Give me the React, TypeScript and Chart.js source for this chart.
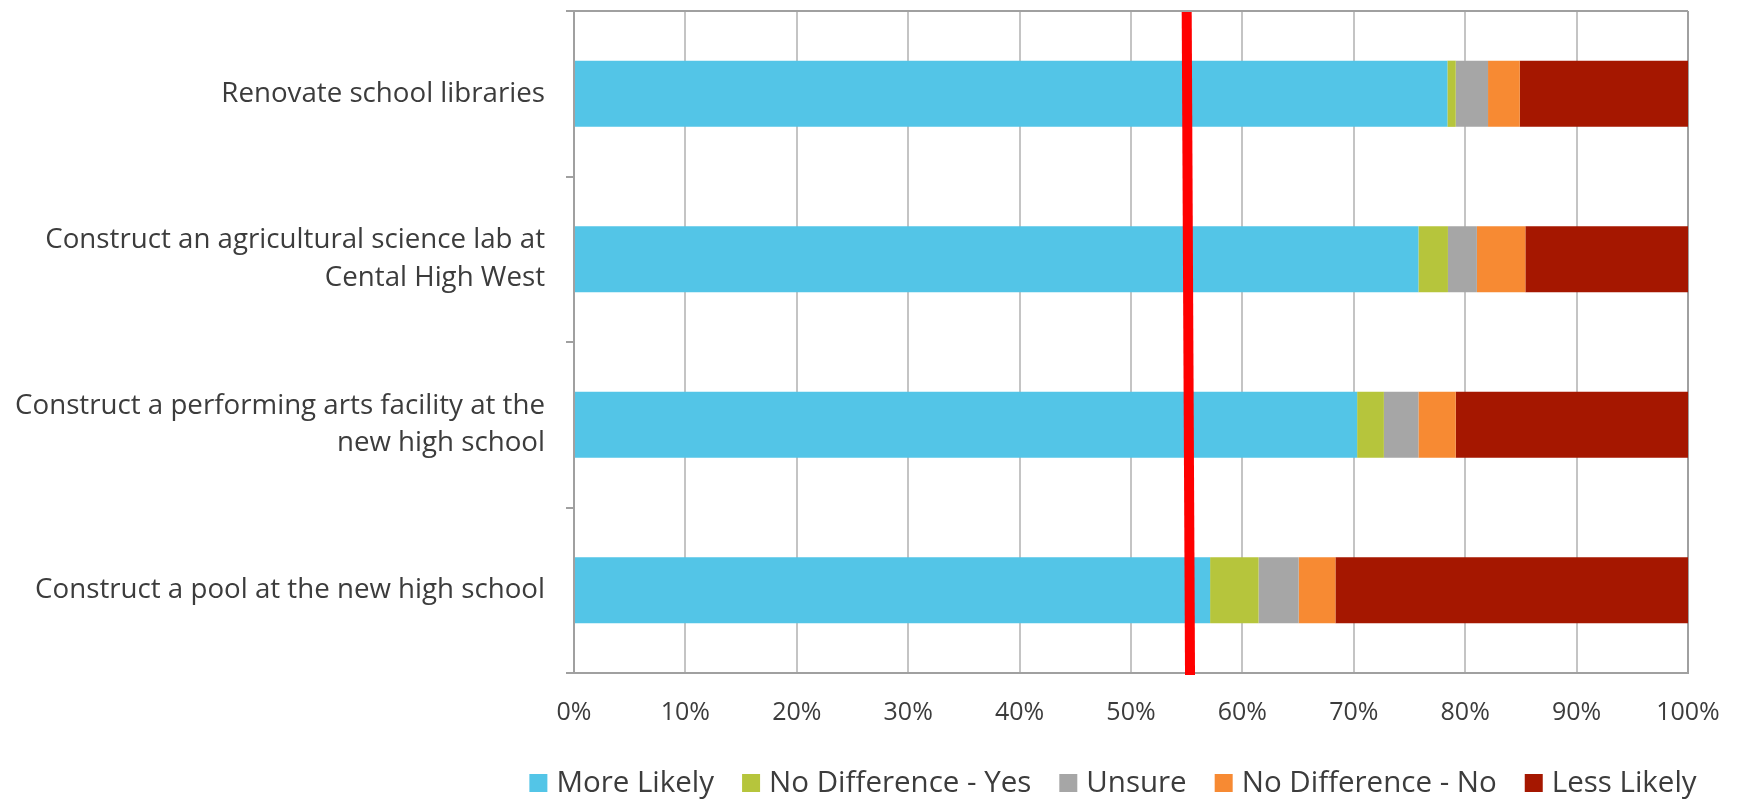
import React, { useEffect, useRef } from "react";
import { Chart, registerables } from "chart.js";

Chart.register(...registerables);

const categories: (string | string[])[] = [
  "Renovate school libraries",
  ["Construct an agricultural science lab at", "Cental High West"],
  ["Construct a performing arts facility at the", "new high school"],
  "Construct a pool at the new high school",
];

const moreLikely = [78.4, 75.8, 70.3, 57.1];
const noDiffYes = [0.75, 2.65, 2.4, 4.35];
const unsure = [2.9, 2.6, 3.1, 3.6];
const noDiffNo = [2.85, 4.35, 3.35, 3.3];
const lessLikely = [15.1, 14.6, 20.85, 31.65];

const seriesNames = ["More Likely", "No Difference - Yes", "Unsure", "No Difference - No", "Less Likely"];
const seriesColors = ["#53c5e7", "#b6c53c", "#a6a6a6", "#f78a33", "#a51700"];

const xTicks = [0, 10, 20, 30, 40, 50, 60, 70, 80, 90, 100];

// threshold line (percent at top and bottom of plot)
const thresholdTop = 55.0;
const thresholdBottom = 55.3;

const FONT = "'Open Sans', Lato, sans-serif";
const TEXT_COLOR = "#3c3c3c";
const AXIS_COLOR = "#a0a0a0";
const GRID_COLOR = "#c4c4c4";

const W = 1737;
const H = 802;

const framePlugin = {
  id: "frame",
  beforeDatasetsDraw(chart: any) {
    const { ctx, chartArea } = chart;
    ctx.save();
    ctx.strokeStyle = AXIS_COLOR;
    ctx.lineWidth = 2;
    ctx.beginPath();
    ctx.moveTo(chartArea.left, chartArea.top);
    ctx.lineTo(chartArea.right, chartArea.top);
    ctx.moveTo(chartArea.right, chartArea.top);
    ctx.lineTo(chartArea.right, chartArea.bottom);
    ctx.stroke();
    ctx.restore();
  },
};

const thresholdPlugin = {
  id: "threshold",
  afterDatasetsDraw(chart: any) {
    const { ctx, chartArea, scales } = chart;
    const x1 = scales.x.getPixelForValue(thresholdTop);
    const x2 = scales.x.getPixelForValue(thresholdBottom);
    ctx.save();
    ctx.strokeStyle = "#ff0000";
    ctx.lineWidth = 10;
    ctx.beginPath();
    ctx.moveTo(x1, chartArea.top + 1);
    ctx.lineTo(x2, chartArea.bottom + 2);
    ctx.stroke();
    ctx.restore();
  },
};

const legendPlugin = {
  id: "customLegend",
  afterDraw(chart: any) {
    const { ctx } = chart;
    const fs = 29.5;
    const box = 18;
    const gapBT = 9;
    const gapItem = 28;
    const centerX = 1113;
    const y = 783;
    ctx.save();
    ctx.font = `${fs}px ${FONT}`;
    ctx.textBaseline = "middle";
    ctx.textAlign = "left";
    const items = chart.data.datasets.map((d: any) => ({
      label: d.label,
      color: d.backgroundColor,
      w: ctx.measureText(d.label).width,
    }));
    const total =
      items.reduce((s: number, it: any) => s + box + gapBT + it.w, 0) + gapItem * (items.length - 1);
    let x = centerX - total / 2;
    for (const it of items) {
      ctx.fillStyle = it.color;
      ctx.fillRect(x, y - box / 2, box, box);
      ctx.fillStyle = TEXT_COLOR;
      ctx.fillText(it.label, x + box + gapBT, y + 1);
      x += box + gapBT + it.w + gapItem;
    }
    ctx.restore();
  },
};

export default function App() {
  const ref = useRef<HTMLCanvasElement | null>(null);

  useEffect(() => {
    if (!ref.current) return;
    const seriesData = [moreLikely, noDiffYes, unsure, noDiffNo, lessLikely];
    const chart = new Chart(ref.current, {
      type: "bar",
      data: {
        labels: categories as any,
        datasets: seriesNames.map((name, i) => ({
          label: name,
          data: seriesData[i],
          backgroundColor: seriesColors[i],
          borderWidth: 0,
          barPercentage: 0.4,
          categoryPercentage: 1,
        })),
      },
      options: {
        indexAxis: "y",
        animation: false,
        responsive: false,
        devicePixelRatio: 1,
        layout: { padding: { left: 0, right: 49, top: 11, bottom: 0 } },
        plugins: {
          legend: { display: false },
          tooltip: { enabled: false },
          title: { display: false },
        },
        scales: {
          x: {
            type: "linear",
            stacked: true,
            min: 0,
            max: 100,
            afterBuildTicks: (scale: any) => {
              scale.ticks = xTicks.map((v) => ({ value: v }));
            },
            afterFit: (scale: any) => {
              scale.height = 129;
              scale.paddingLeft = 0;
              scale.paddingRight = 0;
            },
            ticks: {
              callback: (v: any) => `${v}%`,
              font: { family: FONT, size: 25 },
              color: TEXT_COLOR,
              padding: 25,
              maxRotation: 0,
            },
            grid: {
              color: GRID_COLOR,
              lineWidth: 2,
              drawTicks: false,
            },
            border: { display: true, color: AXIS_COLOR, width: 2 },
          },
          y: {
            stacked: true,
            afterFit: (scale: any) => {
              scale.width = 574;
              scale.paddingTop = 0;
              scale.paddingBottom = 0;
            },
            ticks: {
              font: { family: FONT, size: 27.7, lineHeight: 1.35 },
              color: TEXT_COLOR,
              padding: 21,
            },
            grid: {
              offset: true,
              drawOnChartArea: false,
              drawTicks: true,
              tickLength: 8,
              color: AXIS_COLOR,
              lineWidth: 2,
            },
            border: { display: true, color: AXIS_COLOR, width: 2 },
          },
        },
      },
      plugins: [framePlugin, thresholdPlugin, legendPlugin],
    });
    return () => chart.destroy();
  }, []);

  return (
    <div style={{ position: "absolute", left: 0, top: 0, width: W, height: H, background: "#ffffff" }}>
      <canvas ref={ref} width={W} height={H} style={{ display: "block", width: W, height: H }} />
    </div>
  );
}
